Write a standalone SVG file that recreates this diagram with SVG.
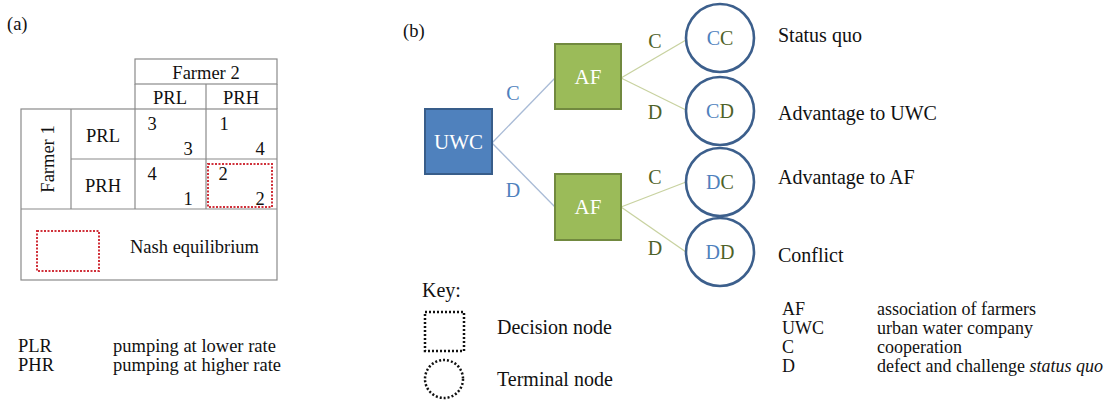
<svg xmlns="http://www.w3.org/2000/svg" width="1120" height="405" viewBox="0 0 1120 405">
<style>
text{font-family:"Liberation Serif","Times New Roman",serif;fill:#111}
.ta{font-size:18.5px}
.tl{font-size:18px}
.tb{font-size:20px}
.grid{stroke:#8a8a8a;stroke-width:1.2;fill:none}
.nash{fill:none;stroke:#d0303a;stroke-width:2;stroke-dasharray:2 1.5}
.dec-uwc{fill:#4f81bd;stroke:#385d8a;stroke-width:2}
.dec-af{fill:#9bbb59;stroke:#71893f;stroke-width:2}
.term{fill:#fff;stroke:#3c5f8c;stroke-width:2.6}
.nl{font-size:21px;fill:#fff;text-anchor:middle}
.blue{fill:#4f81bd}
.olive{fill:#4f6228}
.ln-b{stroke:#a9bbd6;stroke-width:1.3}
.ln-g{stroke:#c8d2a0;stroke-width:1.3}
.key{fill:none;stroke:#111;stroke-width:2.5;stroke-dasharray:2 2}
</style>
<rect width="1120" height="405" fill="#fff"/>

<g id="panel-a">
<text x="7" y="30" class="ta">(a)</text>
<g class="grid">
<rect x="135" y="59" width="142" height="25"/>
<line x1="135" y1="84" x2="135" y2="109"/>
<line x1="206" y1="84" x2="206" y2="209"/>
<line x1="277" y1="84" x2="277" y2="109"/>
<rect x="21" y="109" width="256" height="171"/>
<line x1="71" y1="109" x2="71" y2="209"/>
<line x1="135" y1="109" x2="135" y2="209"/>
<line x1="71" y1="159" x2="277" y2="159"/>
<line x1="21" y1="209" x2="277" y2="209"/>
</g>
<text x="206" y="79" class="ta" text-anchor="middle">Farmer 2</text>
<text x="170" y="104" class="ta" text-anchor="middle">PRL</text>
<text x="241" y="104" class="ta" text-anchor="middle">PRH</text>
<text x="103" y="142" class="ta" text-anchor="middle">PRL</text>
<text x="103" y="192" class="ta" text-anchor="middle">PRH</text>
<text transform="translate(54,159) rotate(-90)" class="ta" text-anchor="middle">Farmer 1</text>
<g class="ta" text-anchor="middle">
<text x="152" y="130">3</text>
<text x="188" y="155">3</text>
<text x="224" y="130">1</text>
<text x="260" y="155">4</text>
<text x="152" y="180">4</text>
<text x="188" y="205">1</text>
<text x="223" y="180">2</text>
<text x="260" y="205">2</text>
</g>
<rect x="208" y="164" width="64" height="43" class="nash"/>
<rect x="37" y="231" width="62" height="40" class="nash"/>
<text x="130" y="253" class="ta">Nash equilibrium</text>
<text x="18" y="352" class="ta">PLR</text>
<text x="113" y="352" class="ta">pumping at lower rate</text>
<text x="18" y="371" class="ta">PHR</text>
<text x="113" y="371" class="ta">pumping at higher rate</text>
</g>

<text x="403" y="37" class="ta">(b)</text>

<g id="connectors">
<line x1="492" y1="143" x2="555" y2="78" class="ln-b"/>
<line x1="492" y1="143" x2="555" y2="207" class="ln-b"/>
<line x1="621" y1="78" x2="686" y2="40" class="ln-g"/>
<line x1="621" y1="78" x2="686" y2="110" class="ln-g"/>
<line x1="621" y1="207" x2="686" y2="182" class="ln-g"/>
<line x1="621" y1="207" x2="686" y2="252" class="ln-g"/>
<text x="513" y="100" class="tb blue" text-anchor="middle">C</text>
<text x="513" y="197" class="tb blue" text-anchor="middle">D</text>
<text x="655" y="48" class="tb olive" text-anchor="middle">C</text>
<text x="655" y="119" class="tb olive" text-anchor="middle">D</text>
<text x="655" y="184" class="tb olive" text-anchor="middle">C</text>
<text x="655" y="255" class="tb olive" text-anchor="middle">D</text>
</g>

<g id="node-uwc">
<rect x="425" y="109" width="67" height="65" class="dec-uwc"/>
<text x="458.5" y="149" class="nl">UWC</text>
</g>
<g id="node-af1">
<rect x="555" y="44" width="66" height="65" class="dec-af"/>
<text x="588" y="84" class="nl">AF</text>
</g>
<g id="node-af2">
<rect x="555" y="174" width="66" height="66" class="dec-af"/>
<text x="588" y="214" class="nl">AF</text>
</g>

<g id="node-cc">
<circle cx="720" cy="38" r="34" class="term"/>
<text x="720" y="45" class="tb" text-anchor="middle"><tspan class="blue">C</tspan><tspan class="olive">C</tspan></text>
</g>
<g id="node-cd">
<circle cx="720" cy="111" r="34" class="term"/>
<text x="720" y="118" class="tb" text-anchor="middle"><tspan class="blue">C</tspan><tspan class="olive">D</tspan></text>
</g>
<g id="node-dc">
<circle cx="720" cy="182" r="34" class="term"/>
<text x="720" y="189" class="tb" text-anchor="middle"><tspan class="blue">D</tspan><tspan class="olive">C</tspan></text>
</g>
<g id="node-dd">
<circle cx="720" cy="252" r="34" class="term"/>
<text x="720" y="259" class="tb" text-anchor="middle"><tspan class="blue">D</tspan><tspan class="olive">D</tspan></text>
</g>

<g id="outcomes" class="tb">
<text x="778" y="42">Status quo</text>
<text x="778" y="120">Advantage to UWC</text>
<text x="778" y="184">Advantage to AF</text>
<text x="778" y="262">Conflict</text>
</g>

<g id="key">
<text x="422" y="297" class="tb">Key:</text>
<rect x="425" y="312" width="39" height="39" class="key"/>
<text x="497" y="334" class="tb">Decision node</text>
<circle cx="444" cy="379" r="19" class="key"/>
<text x="497" y="386" class="tb">Terminal node</text>
</g>

<g id="legend-b" class="tl">
<text x="782" y="315">AF</text>
<text x="877" y="315">association of farmers</text>
<text x="782" y="334">UWC</text>
<text x="877" y="334">urban water company</text>
<text x="782" y="353">C</text>
<text x="877" y="353">cooperation</text>
<text x="782" y="372">D</text>
<text x="877" y="372">defect and challenge <tspan font-style="italic">status quo</tspan></text>
</g>
</svg>
